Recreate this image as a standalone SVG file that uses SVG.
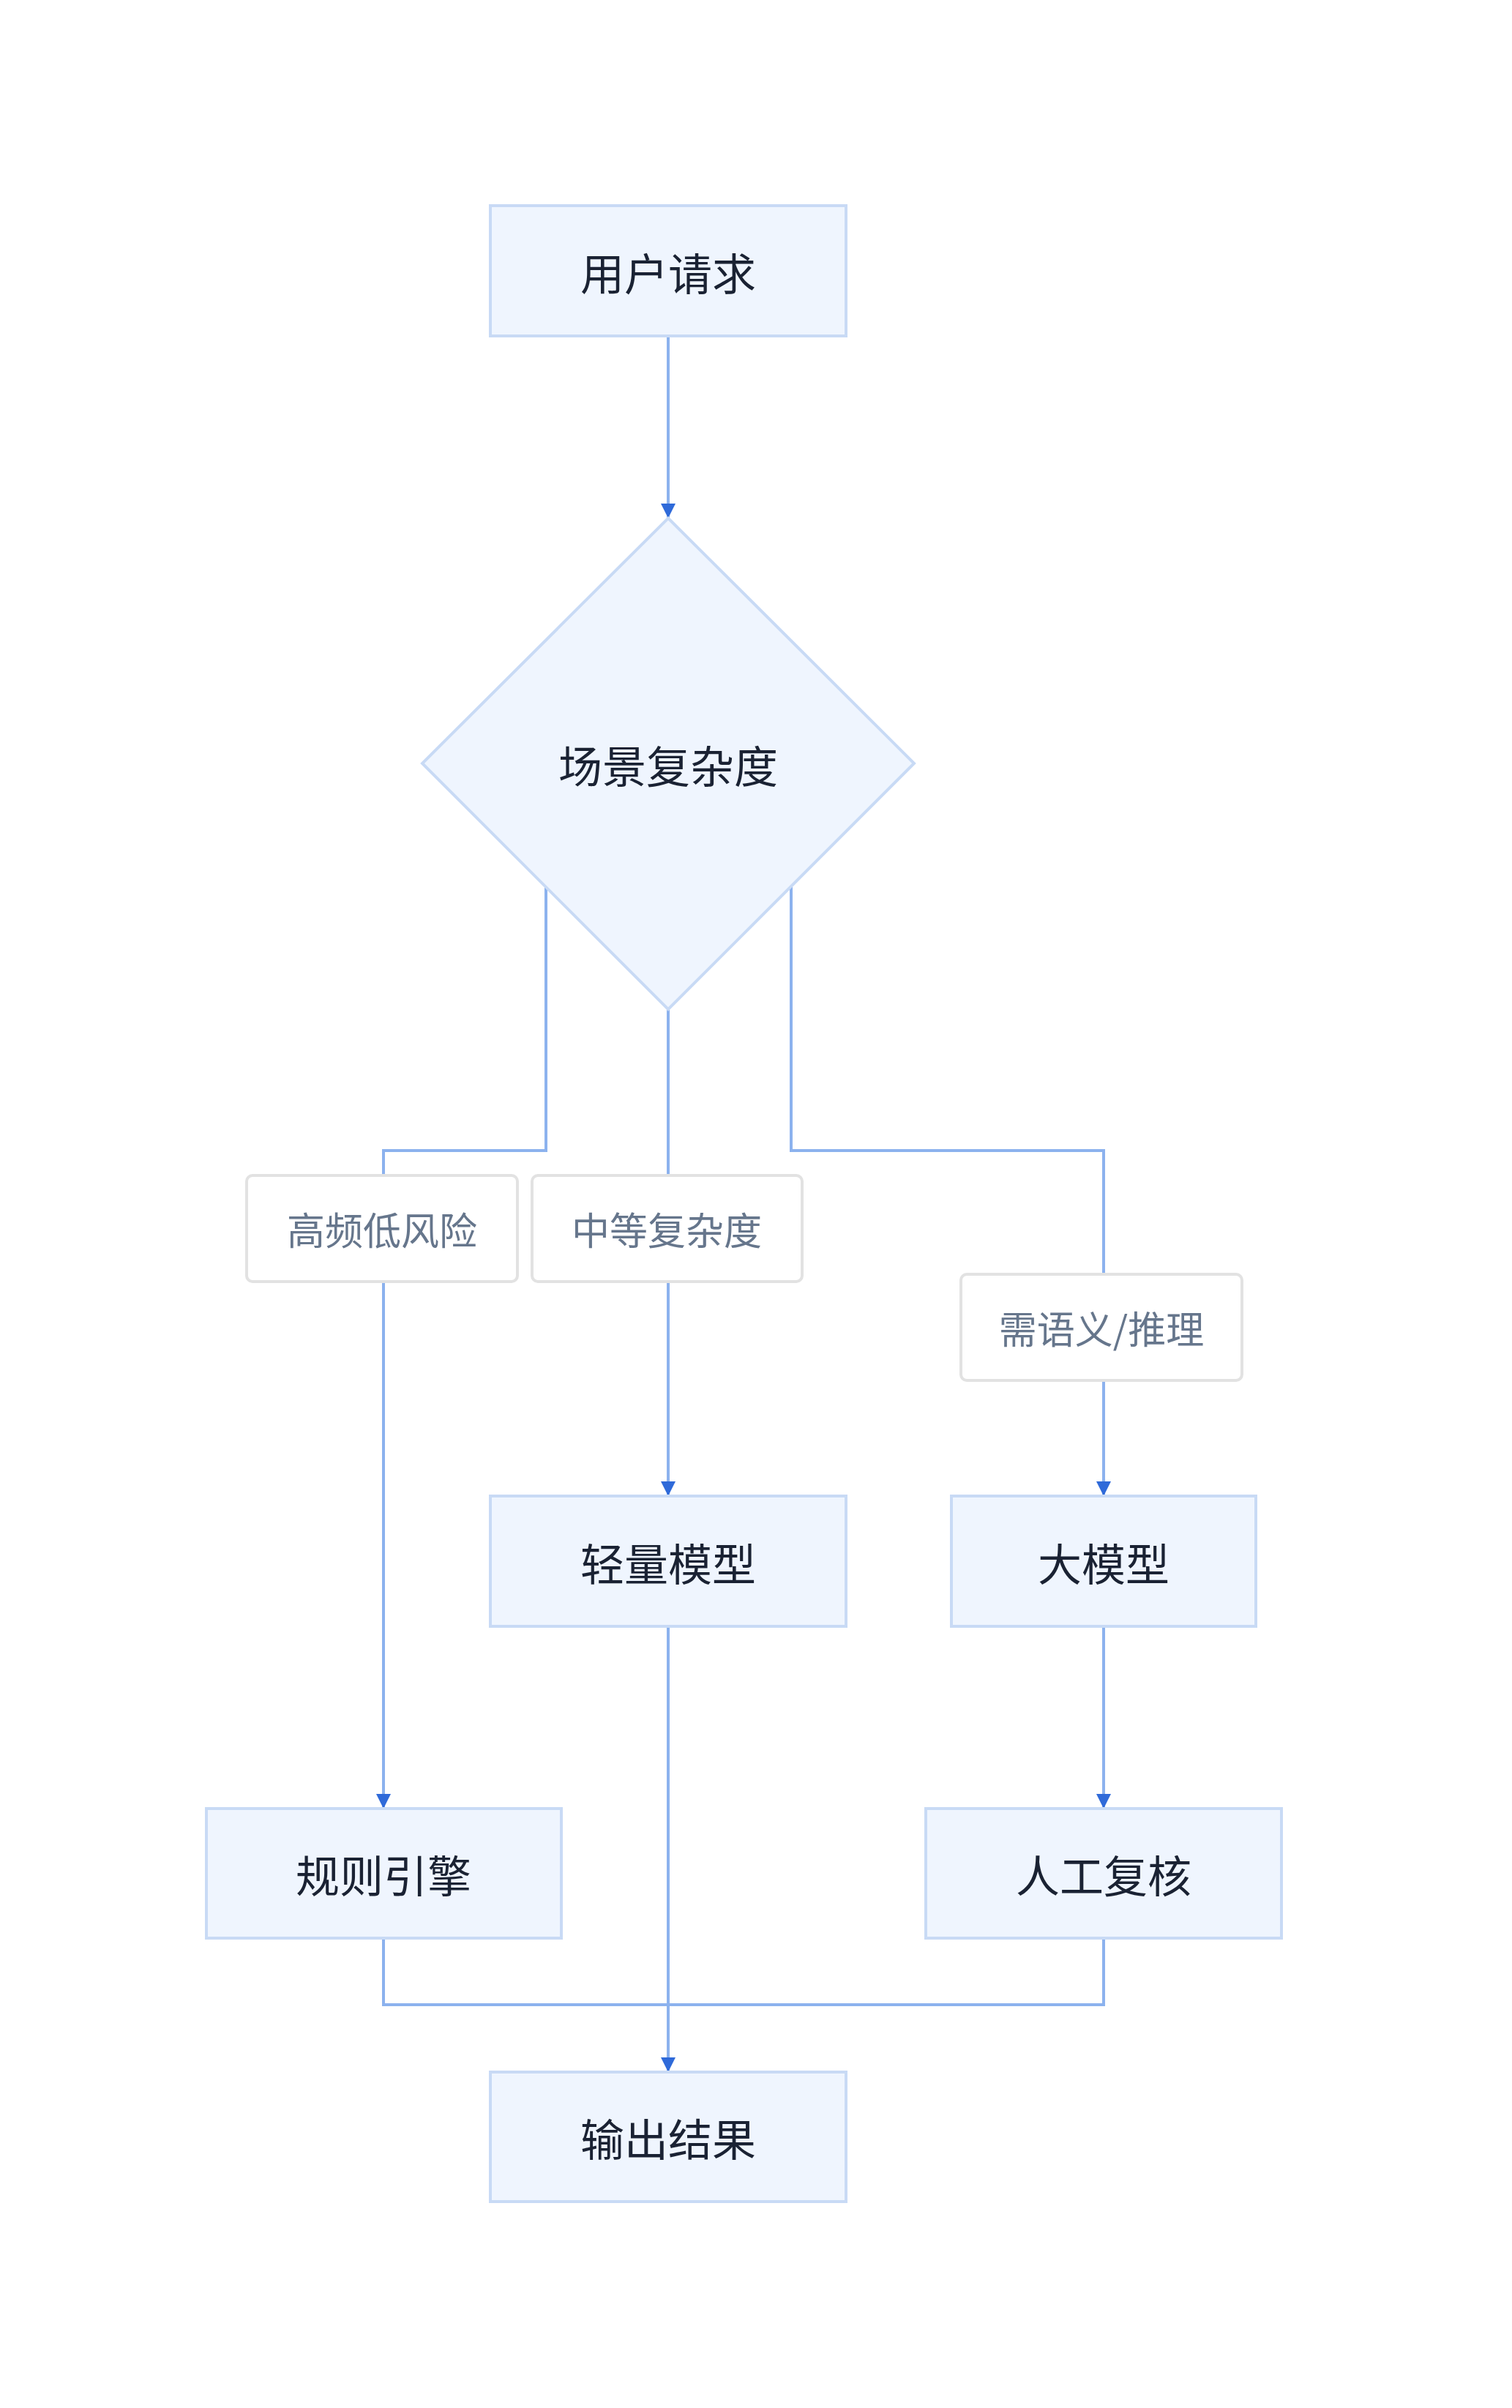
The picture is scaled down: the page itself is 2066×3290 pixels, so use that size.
<svg xmlns="http://www.w3.org/2000/svg" width="2066" height="3290" viewBox="0 0 2066 3290">
<style>
.n{fill:#eff5fe;stroke:#c8daf5;stroke-width:4}
.t{font-family:"Noto Sans CJK SC","Noto Sans",sans-serif;font-size:60px;fill:#1a2233;text-anchor:middle;dominant-baseline:central}
.lb{fill:#fff;stroke:#e2e2e2;stroke-width:4}
.lt{font-family:"Noto Sans CJK SC","Noto Sans",sans-serif;font-size:52px;fill:#66768c;text-anchor:middle;dominant-baseline:central}
.c{fill:none;stroke:#8cb2ee;stroke-width:4}
</style>
<defs><marker id="a" viewBox="0 0 10 10" refX="10" refY="5" markerWidth="6" markerHeight="8" markerUnits="userSpaceOnUse" orient="auto"><path d="M0,0L10,5L0,10z" fill="#2f6ad9"/></marker>
<marker id="ah" viewBox="0 0 20 20" refX="20" refY="10" markerWidth="20" markerHeight="36" orient="auto" markerUnits="userSpaceOnUse"><path d="M0,0L20,10L0,20z" fill="#2f6ad9"/></marker></defs>
<rect width="2066" height="3290" fill="#fff"/>
<g id="connectors">
<path class="c" d="M913,459V708" marker-end="url(#ah)"/>
<path class="c" d="M746,1212V1572H524V2471" marker-end="url(#ah)"/>
<path class="c" d="M913,1379V2044" marker-end="url(#ah)"/>
<path class="c" d="M1081,1212V1572H1508V2044" marker-end="url(#ah)"/>
<path class="c" d="M1508,2222V2471" marker-end="url(#ah)"/>
<path class="c" d="M913,2222V2831" marker-end="url(#ah)"/>
<path class="c" d="M524,2648V2739H1508V2648"/>
</g>
<g id="label1"><rect class="lb" x="337" y="1606" width="370" height="145" rx="8"/><text class="lt" x="522" y="1678">高频低风险</text></g>
<g id="label2"><rect class="lb" x="727" y="1606" width="369" height="145" rx="8"/><text class="lt" x="911" y="1678">中等复杂度</text></g>
<g id="label3"><rect class="lb" x="1313" y="1741" width="384" height="145" rx="8"/><text class="lt" x="1505" y="1813">需语义/推理</text></g>
<g id="n1"><rect class="n" x="670" y="281" width="486" height="178"/><text class="t" x="913" y="370">用户请求</text></g>
<g id="n2"><path class="n" d="M913,708L1249,1043L913,1379L577,1043z"/><text class="t" x="913" y="1043">场景复杂度</text></g>
<g id="n3"><rect class="n" x="670" y="2044" width="486" height="178"/><text class="t" x="913" y="2133">轻量模型</text></g>
<g id="n4"><rect class="n" x="1300" y="2044" width="416" height="178"/><text class="t" x="1508" y="2133">大模型</text></g>
<g id="n5"><rect class="n" x="282" y="2471" width="485" height="177"/><text class="t" x="524" y="2559">规则引擎</text></g>
<g id="n6"><rect class="n" x="1265" y="2471" width="486" height="177"/><text class="t" x="1508" y="2559">人工复核</text></g>
<g id="n7"><rect class="n" x="670" y="2831" width="486" height="177"/><text class="t" x="913" y="2919">输出结果</text></g>
</svg>
